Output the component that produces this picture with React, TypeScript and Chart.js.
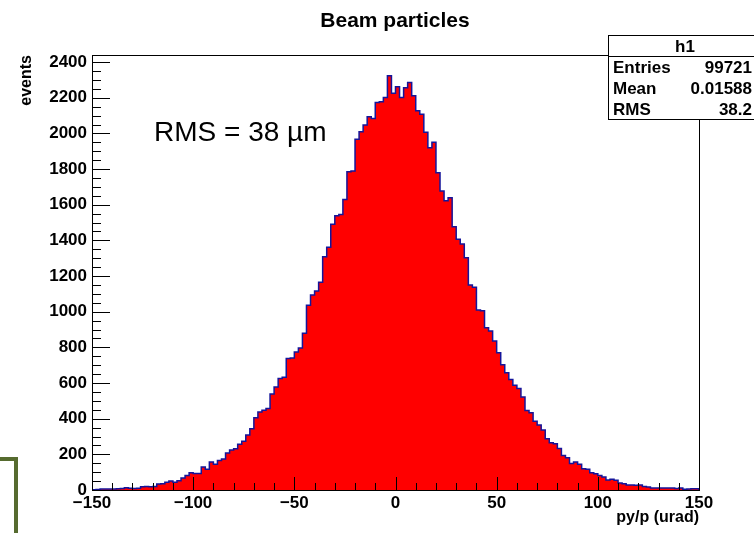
import React, { useEffect, useRef } from "react";
import { Chart, registerables } from "chart.js";

Chart.register(...registerables);

const chartTitle = "Beam particles";
const xAxisTitle = "py/p (urad)";
const yAxisTitle = "events";
const annotationText = "RMS = 38 \u00b5m";

const binLow = -150;
const binWidth = 2;
const binCounts = [
  2, 3, 5, 5, 6, 6, 7, 8, 12, 10,
  9, 10, 18, 19, 18, 19, 33, 35, 43, 50,
  44, 52, 67, 82, 97, 93, 93, 129, 116, 157,
  144, 166, 174, 207, 224, 231, 256, 274, 308, 343,
  405, 437, 448, 457, 539, 578, 625, 633, 737, 741,
  774, 797, 879, 1037, 1094, 1116, 1165, 1308, 1361, 1490,
  1538, 1546, 1630, 1785, 1790, 1967, 2010, 2047, 2094, 2084,
  2174, 2178, 2202, 2324, 2225, 2262, 2202, 2256, 2286, 2211,
  2127, 2107, 2006, 1920, 1950, 1780, 1677, 1623, 1639, 1477,
  1406, 1380, 1303, 1150, 1137, 1009, 1006, 910, 892, 836,
  770, 703, 657, 620, 588, 569, 522, 446, 433, 386,
  364, 336, 287, 265, 259, 233, 194, 181, 149, 157,
  144, 119, 116, 97, 91, 82, 73, 56, 60, 54,
  39, 35, 28, 28, 26, 28, 19, 17, 11, 11,
  11, 11, 11, 11, 9, 11, 4, 6, 7, 7,
];

const xMin = -150;
const xMax = 150;
const yMin = 0;
const yMax = 2440;
const xTickValues = [-150, -100, -50, 0, 50, 100, 150];
const xTickLabels = ["\u2212150", "\u2212100", "\u221250", "0", "50", "100", "150"];
const yTickValues = [0, 200, 400, 600, 800, 1000, 1200, 1400, 1600, 1800, 2000, 2200, 2400];
const xMinorDivisions = 5;
const yMinorDivisions = 4;

const statsName = "h1";
const statsLabels = ["Entries", "Mean", "RMS"];
const statsValues = ["99721", "0.01588", "38.2"];

const FONT = "'Liberation Sans', Arial, Helvetica, sans-serif";

const rootDecor = {
  id: "rootDecor",
  beforeDraw(chart: any) {
    const ctx = chart.ctx;
    ctx.save();
    ctx.fillStyle = "#ffffff";
    ctx.fillRect(0, 0, chart.width, chart.height);
    ctx.restore();
  },
  afterDatasetsDraw(chart: any) {
    const ctx = chart.ctx;
    const { left, right, top, bottom } = chart.chartArea;
    const xs = chart.scales.x;
    const ys = chart.scales.y;
    ctx.save();
    ctx.strokeStyle = "#000000";
    ctx.lineWidth = 1;
    ctx.strokeRect(Math.round(left) + 0.5, Math.round(top) + 0.5, Math.round(right - left), Math.round(bottom - top));
    ctx.beginPath();
    for (let i = 0; i < yTickValues.length; i++) {
      const v = yTickValues[i];
      const py = Math.round(ys.getPixelForValue(v)) + 0.5;
      ctx.moveTo(left, py);
      ctx.lineTo(left + 18, py);
      const step = i + 1 < yTickValues.length ? yTickValues[i + 1] - v : yTickValues[1] - yTickValues[0];
      for (let k = 1; k < yMinorDivisions; k++) {
        const mv = v + (step * k) / yMinorDivisions;
        if (mv > yMax) break;
        const my = Math.round(ys.getPixelForValue(mv)) + 0.5;
        ctx.moveTo(left, my);
        ctx.lineTo(left + 9, my);
      }
    }
    for (let i = 0; i < xTickValues.length; i++) {
      const v = xTickValues[i];
      const px = Math.round(xs.getPixelForValue(v)) + 0.5;
      ctx.moveTo(px, bottom);
      ctx.lineTo(px, bottom - 13);
      if (i + 1 < xTickValues.length) {
        const step = xTickValues[i + 1] - v;
        for (let k = 1; k < xMinorDivisions; k++) {
          const mx = Math.round(xs.getPixelForValue(v + (step * k) / xMinorDivisions)) + 0.5;
          ctx.moveTo(mx, bottom);
          ctx.lineTo(mx, bottom - 7);
        }
      }
    }
    ctx.stroke();
    ctx.restore();
  },
  afterDraw(chart: any) {
    const ctx = chart.ctx;
    const { right, top } = chart.chartArea;
    ctx.save();
    ctx.fillStyle = "#000000";
    ctx.font = `bold 21px ${FONT}`;
    ctx.textAlign = "center";
    ctx.textBaseline = "middle";
    ctx.fillText(chartTitle, 395, 21);
    ctx.font = `bold 16px ${FONT}`;
    ctx.textAlign = "right";
    ctx.textBaseline = "middle";
    ctx.fillText(xAxisTitle, right, 518);
    ctx.save();
    ctx.translate(27, top);
    ctx.rotate(-Math.PI / 2);
    ctx.textAlign = "right";
    ctx.textBaseline = "middle";
    ctx.fillText(yAxisTitle, 0, 0);
    ctx.restore();
    ctx.font = `28px ${FONT}`;
    ctx.textAlign = "left";
    ctx.textBaseline = "alphabetic";
    ctx.fillText(annotationText, 154, 141);
    const bx = 608.5, by = 35.5, bw = 160, rowH = 21;
    const bh = rowH * (statsLabels.length + 1);
    ctx.fillStyle = "#ffffff";
    ctx.fillRect(bx, by, bw, bh);
    ctx.strokeStyle = "#000000";
    ctx.lineWidth = 1;
    ctx.strokeRect(bx, by, bw, bh);
    ctx.beginPath();
    ctx.moveTo(bx, by + rowH);
    ctx.lineTo(bx + bw, by + rowH);
    ctx.stroke();
    ctx.fillStyle = "#000000";
    ctx.font = `bold 17px ${FONT}`;
    ctx.textBaseline = "middle";
    ctx.textAlign = "center";
    ctx.fillText(statsName, 685, by + rowH / 2 + 1);
    for (let i = 0; i < statsLabels.length; i++) {
      const cy = by + rowH * (i + 1) + rowH / 2 + 1;
      ctx.textAlign = "left";
      ctx.fillText(statsLabels[i], 613, cy);
      ctx.textAlign = "right";
      ctx.fillText(statsValues[i], 752, cy);
    }
    ctx.strokeStyle = "#566b2f";
    ctx.lineWidth = 4;
    ctx.beginPath();
    ctx.moveTo(0, 459);
    ctx.lineTo(16, 459);
    ctx.lineTo(16, 540);
    ctx.stroke();
    ctx.restore();
  },
};

export default function App() {
  const canvasRef = useRef<HTMLCanvasElement | null>(null);

  useEffect(() => {
    const canvas = canvasRef.current;
    if (!canvas) return;
    const points: { x: number; y: number }[] = [{ x: binLow, y: 0 }];
    binCounts.forEach((c, i) => points.push({ x: binLow + i * binWidth, y: c }));
    points.push({ x: binLow + binCounts.length * binWidth, y: binCounts[binCounts.length - 1] });
    points.push({ x: binLow + binCounts.length * binWidth, y: 0 });

    const chart = new Chart(canvas, {
      type: "line",
      data: {
        datasets: [
          {
            label: "h1",
            data: points,
            stepped: "before",
            fill: "origin",
            backgroundColor: "#ff0000",
            borderColor: "#14149a",
            borderWidth: 1.5,
            pointRadius: 0,
            tension: 0,
          } as any,
        ],
      },
      options: {
        animation: false,
        responsive: false,
        devicePixelRatio: 1,
        parsing: false,
        layout: { padding: { left: 0, right: 55, top: 55, bottom: 0 } },
        plugins: {
          legend: { display: false },
          title: { display: false },
          tooltip: { enabled: false },
        },
        scales: {
          x: {
            type: "linear",
            min: xMin,
            max: xMax,
            afterBuildTicks: (s: any) => {
              s.ticks = xTickValues.map((v) => ({ value: v }));
            },
            afterFit: (s: any) => {
              s.height = 43;
            },
            grid: { display: false, drawTicks: false },
            border: { display: false },
            ticks: {
              autoSkip: false,
              maxRotation: 0,
              padding: 3,
              color: "#000000",
              font: { family: FONT, size: 17, weight: "bold" },
              callback: (v: any) => {
                const idx = xTickValues.indexOf(Number(v));
                return idx >= 0 ? xTickLabels[idx] : "";
              },
            },
          },
          y: {
            type: "linear",
            min: yMin,
            max: yMax,
            afterBuildTicks: (s: any) => {
              s.ticks = yTickValues.map((v) => ({ value: v }));
            },
            afterFit: (s: any) => {
              s.width = 92;
            },
            grid: { display: false, drawTicks: false },
            border: { display: false },
            ticks: {
              autoSkip: false,
              padding: 5,
              color: "#000000",
              font: { family: FONT, size: 17, weight: "bold" },
              callback: (v: any) => String(v),
            },
          },
        },
      } as any,
      plugins: [rootDecor],
    });
    return () => chart.destroy();
  }, []);

  return (
    <canvas
      ref={canvasRef}
      width={754}
      height={533}
      style={{ position: "absolute", left: 0, top: 0, display: "block" }}
    />
  );
}
